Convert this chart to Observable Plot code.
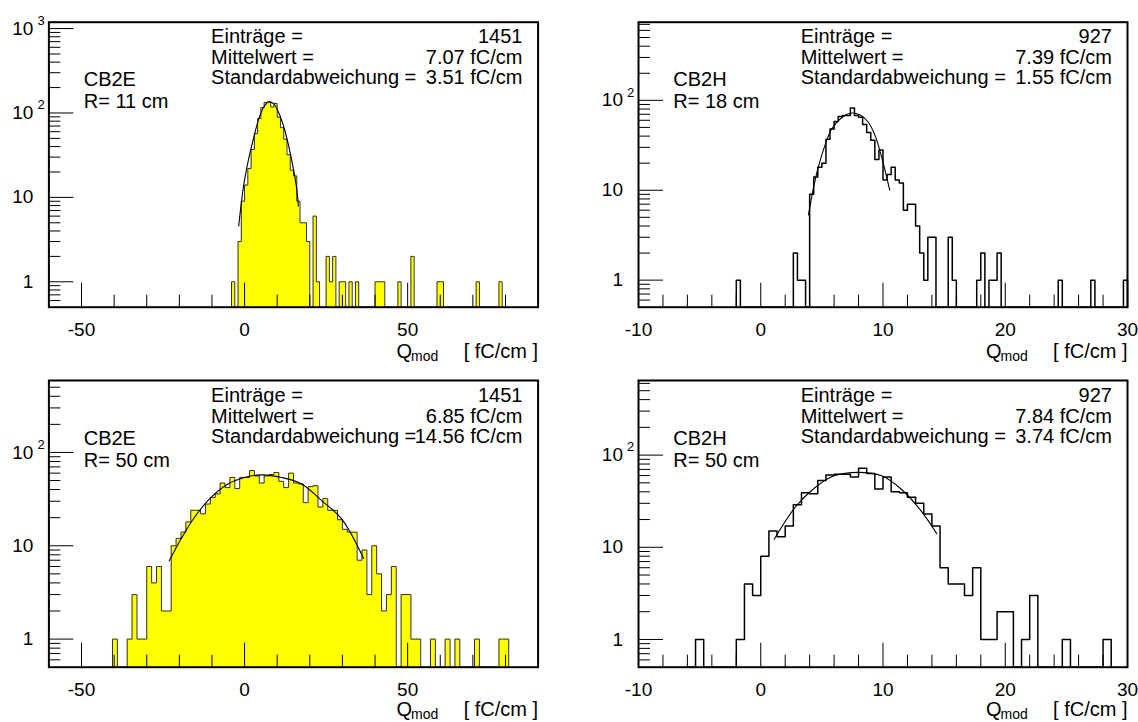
<!DOCTYPE html>
<html>
<head>
<meta charset="utf-8">
<script src="https://cdn.jsdelivr.net/npm/d3@7"></script>
<script src="https://cdn.jsdelivr.net/npm/@observablehq/plot@0.6"></script>
<style>
  html, body { margin: 0; padding: 0; background: #ffffff; }
  #grid { position: relative; width: 1138px; height: 722px; overflow: hidden; background: #ffffff; }
  #grid > div { position: absolute; }
</style>
</head>
<body>
<div id="grid"></div>
<script>
// ---------- Data ----------
const statNames = ["Einträge =", "Mittelwert =", "Standardabweichung ="];

// CB2E, R = 11 cm : bins of 1 fC/cm, first listed bin starts at -4
const p1Start = -4, p1Width = 1;
const p1Counts = [
  1, 0, 3, 9, 14, 22, 37, 57, 86, 116,
  133, 135, 118, 130, 89, 67, 49, 32, 21, 18,
  9, 5, 5, 3, 0, 6, 1, 0, 0, 2,
  1, 2, 0, 1, 1, 0, 1, 0, 1, 0,
  0, 0, 0, 0, 1, 1, 1, 0, 0, 0,
  0, 1, 0, 0, 0, 2, 0, 0, 0, 0,
  0, 0, 0, 1, 1, 0, 0, 0, 0, 0,
  0, 0, 0, 0, 0, 1, 0, 0, 0, 0,
  0, 0, 1
];
const p1FitX = [-1.8, -0.3, 1.2, 2.8, 4.3, 5.8, 7.3, 8.9, 10.4, 11.9, 13.5, 15.0, 16.0, 16.5];
const p1FitY = [4.6, 13.7, 28, 51, 84, 116, 135, 129, 102, 71, 41, 21.5, 12.5, 7.9];
const p1Stats = ["1451", "7.07 fC/cm", "3.51 fC/cm"];
const p1Tag = ["CB2E", "R= 11 cm"];

// CB2H, R = 18 cm : bins of 1/3 fC/cm, first listed bin starts at -2
const p2Start = -2, p2Width = 1 / 3;
const p2Counts = [
  1, 0, 0, 0, 0, 0, 0, 0, 0, 0, 0, 0,
  0, 0, 2, 1, 1, 0, 9, 14, 18, 20, 37, 48,
  58, 66, 68, 68, 82, 68, 65, 54, 44, 36, 22, 28,
  13, 15, 18, 13, 12, 6, 7, 7, 4, 2, 1, 3,
  3, 0, 0, 0, 3, 1, 0, 0, 0, 0, 0, 1,
  2, 0, 1, 1, 2, 0, 0, 0, 0, 0, 0, 0,
  0, 0, 0, 0, 0, 0, 0, 1, 0, 0, 0, 0,
  0, 0, 0, 1, 0, 0, 0, 0, 0, 0, 0, 1
];
const p2FitX = [3.9, 4.3, 4.7, 5.3, 5.8, 6.5, 7.3, 8.1, 8.8, 9.4, 9.9, 10.3, 10.55];
const p2FitY = [5.3, 10.4, 18, 33, 48, 62, 72, 69, 57, 39, 23, 14, 10];
const p2Stats = ["927", "7.39 fC/cm", "1.55 fC/cm"];
const p2Tag = ["CB2H", "R= 18 cm"];

// CB2E, R = 50 cm : bins of 1.5 fC/cm, first listed bin starts at -40.5
const p3Start = -40.5, p3Width = 1.5;
const p3Counts = [
  1, 0, 0, 1, 3, 1, 1, 6, 4, 6,
  2, 2, 10, 12, 14, 18, 24, 24, 22, 28,
  33, 36, 47, 42, 54, 41, 54, 54, 64, 56,
  47, 56, 58, 61, 49, 42, 60, 47, 46, 29,
  43, 44, 26, 32, 24, 24, 19, 15, 14, 14,
  7, 9, 3, 10, 5, 2, 3, 6, 0, 3,
  3, 1, 1, 0, 0, 1, 0, 0, 1, 0,
  1, 0, 0, 0, 1, 0, 0, 0, 0, 1,
  1
];
const p3FitX = [-23.1, -19.5, -15.4, -10.3, -5.1, 0, 5.1, 11.3, 17.5, 23.6, 29.8, 36.5];
const p3FitY = [6.9, 11.8, 20.1, 33, 46, 54, 57.5, 54, 46, 30.5, 19.3, 7.3];
const p3Stats = ["1451", "6.85 fC/cm", "14.56 fC/cm"];
const p3Tag = ["CB2E", "R= 50 cm"];

// CB2H, R = 50 cm : bins of 2/3 fC/cm, first listed bin starts at -6
const p4Start = -6, p4Width = 2 / 3;
const p4Counts = [
  0, 1, 0, 0, 0, 0, 1, 4, 3,
  8, 15, 13, 17, 29, 39, 38, 53, 61,
  62, 62, 58, 72, 63, 43, 58, 40, 39,
  35, 30, 23, 17, 6, 4, 4, 3, 6,
  1, 1, 2, 2, 0, 1, 3, 0, 0,
  0, 1, 0, 0, 0, 0, 1
];
const p4FitX = [1.1, 2.8, 4.4, 6.0, 8.0, 9.9, 11.5, 13.1, 14.4];
const p4FitY = [12.2, 27, 44, 59.6, 65, 59.6, 42.6, 25, 14];
const p4Stats = ["927", "7.84 fC/cm", "3.74 fC/cm"];
const p4Tag = ["CB2H", "R= 50 cm"];

// axis ticks
const wideXLabels = [-50, 0, 50];
const wideXMinor = [-40, -30, -20, -10, 10, 20, 30, 40, 60, 70, 80];
const narrowXLabels = [-10, 0, 10, 20, 30];
const narrowXMinor = [-8, -6, -4, -2, 2, 4, 6, 8, 12, 14, 16, 18, 22, 24, 26, 28];
const yMinorBase = [0.6, 0.7, 0.8, 0.9, 2, 3, 4, 5, 6, 7, 8, 9,
                    20, 30, 40, 50, 60, 70, 80, 90, 200, 300, 400, 500, 600, 700, 800, 900];

// ---------- Drawing ----------
const FONT = "'Liberation Sans', Arial, Helvetica, sans-serif";
const PW = 569, PH = 361;

function histPanel(p) {
  const fw = PW - p.ml - p.mr, fh = PH - p.mt - p.mb;
  const floor = p.yDomain[0];
  // step outline of the histogram (empty bins sit on the lower edge of the frame)
  const steps = [{x: p.start, y: floor}];
  p.counts.forEach((c, i) => steps.push({x: p.start + i * p.width, y: Math.max(c, floor)}));
  steps.push({x: p.start + p.counts.length * p.width, y: floor});
  const fit = p.fitX.map((x, i) => ({x, y: p.fitY[i]}));
  const yMajor = p.yMajor;
  const yMinor = yMinorBase.filter(v => v < p.yDomain[1]);
  const yLab = yMajor.map(v => {
    const e = Math.round(Math.log10(v));
    return {v, base: e >= 2 ? "10" : String(v), exp: e >= 2 ? String(e) : null};
  });

  const txt = (s, o) => Plot.text([s], {text: d => d, fontSize: 20, lineAnchor: "bottom", fill: "#000", ...o});
  const marks = [];
  if (p.fill) marks.push(Plot.areaY(steps, {x: "x", y1: floor, y2: "y", curve: "step-after", fill: p.fill}));
  marks.push(Plot.line(steps, {x: "x", y: "y", curve: "step-after", stroke: p.line, strokeWidth: p.lineWidth}));
  marks.push(Plot.line(fit, {x: "x", y: "y", curve: "catmull-rom", stroke: "#000", strokeWidth: 1.1}));
  // ticks drawn inward from the bottom and left frame edges
  marks.push(Plot.ruleX(p.xMajor, {insetTop: fh - 24, stroke: "#000", strokeWidth: 1}));
  marks.push(Plot.ruleX(p.xMinor, {insetTop: fh - 12, stroke: "#000", strokeWidth: 1}));
  marks.push(Plot.ruleY(yMajor, {insetRight: fw - 25, stroke: "#000", strokeWidth: 1}));
  marks.push(Plot.ruleY(yMinor, {insetRight: fw - 12, stroke: "#000", strokeWidth: 1}));
  marks.push(Plot.frame({stroke: "#000", strokeWidth: 2}));
  // tick labels
  marks.push(Plot.text(p.xMajor, {x: d => d, text: d => `${d}`, frameAnchor: "bottom", lineAnchor: "top",
                                   dy: 15, fontSize: 19, fill: "#000"}));
  marks.push(Plot.text(yLab, {y: "v", text: "base", frameAnchor: "left", textAnchor: "end", lineAnchor: "middle",
                              dx: -15.5, fontSize: 19, fill: "#000"}));
  marks.push(Plot.text(yLab.filter(d => d.exp), {y: "v", text: "exp", frameAnchor: "left", textAnchor: "start",
                              lineAnchor: "middle", dx: -11.5, dy: -8, fontSize: 13, fill: "#000"}));
  // axis title
  marks.push(txt("Q", {frameAnchor: "bottom-right", textAnchor: "start", dx: -141.5, dy: p.titleDy}));
  marks.push(txt("mod", {frameAnchor: "bottom-right", textAnchor: "start", dx: -127, dy: p.titleDy + 3.6, fontSize: 14}));
  marks.push(txt("[ fC/cm ]", {frameAnchor: "bottom-right", textAnchor: "end", dx: 0, dy: p.titleDy}));
  // statistics box
  statNames.forEach((s, i) => {
    marks.push(txt(s, {frameAnchor: "top-left", textAnchor: "start", dx: 162.2, dy: p.statTop + 20.4 * i}));
    marks.push(txt(p.stats[i], {frameAnchor: "top-right", textAnchor: "end", dx: -15.6, dy: p.statTop + 20.4 * i}));
  });
  // chamber and radius
  marks.push(txt(p.tag[0], {frameAnchor: "top-left", textAnchor: "start", dx: 34.8, dy: p.statTop + 42.6}));
  marks.push(txt(p.tag[1], {frameAnchor: "top-left", textAnchor: "start", dx: 34.8, dy: p.statTop + 64.8}));

  return Plot.plot({
    width: PW, height: PH,
    marginLeft: p.ml, marginRight: p.mr, marginTop: p.mt, marginBottom: p.mb,
    x: {domain: p.xDomain, axis: null},
    y: {type: "log", domain: p.yDomain, axis: null},
    style: {fontFamily: FONT, background: "transparent", overflow: "visible", color: "#000"},
    marks
  });
}

const panels = [
  {left: 0, top: 0, start: p1Start, width: p1Width, counts: p1Counts, fitX: p1FitX, fitY: p1FitY,
   stats: p1Stats, tag: p1Tag, xDomain: [-60, 90], yDomain: [0.5, 1190], yMajor: [1, 10, 100, 1000],
   xMajor: wideXLabels, xMinor: wideXMinor, fill: "#ffff00", line: "#303030", lineWidth: 1,
   ml: 48.4, mr: 31.4, mt: 21.7, mb: 54.3, statTop: 21, titleDy: 50.3},
  {left: 569, top: 0, start: p2Start, width: p2Width, counts: p2Counts, fitX: p2FitX, fitY: p2FitY,
   stats: p2Stats, tag: p2Tag, xDomain: [-10, 30], yDomain: [0.5, 740], yMajor: [1, 10, 100],
   xMajor: narrowXLabels, xMinor: narrowXMinor, fill: null, line: "#000", lineWidth: 1.5,
   ml: 69, mr: 11, mt: 21.7, mb: 54.3, statTop: 21, titleDy: 50.3},
  {left: 0, top: 361, start: p3Start, width: p3Width, counts: p3Counts, fitX: p3FitX, fitY: p3FitY,
   stats: p3Stats, tag: p3Tag, xDomain: [-60, 90], yDomain: [0.5, 590], yMajor: [1, 10, 100],
   xMajor: wideXLabels, xMinor: wideXMinor, fill: "#ffff00", line: "#303030", lineWidth: 1,
   ml: 48.4, mr: 31.4, mt: 19, mb: 55.3, statTop: 21.7, titleDy: 48.6},
  {left: 569, top: 361, start: p4Start, width: p4Width, counts: p4Counts, fitX: p4FitX, fitY: p4FitY,
   stats: p4Stats, tag: p4Tag, xDomain: [-10, 30], yDomain: [0.5, 645], yMajor: [1, 10, 100],
   xMajor: narrowXLabels, xMinor: narrowXMinor, fill: null, line: "#000", lineWidth: 1.5,
   ml: 69, mr: 11, mt: 19, mb: 55.3, statTop: 21.7, titleDy: 48.6}
];

const grid = document.getElementById("grid");
for (const p of panels) {
  const div = document.createElement("div");
  div.style.left = p.left + "px";
  div.style.top = p.top + "px";
  div.appendChild(histPanel(p));
  grid.appendChild(div);
}
</script>
</body>
</html>
